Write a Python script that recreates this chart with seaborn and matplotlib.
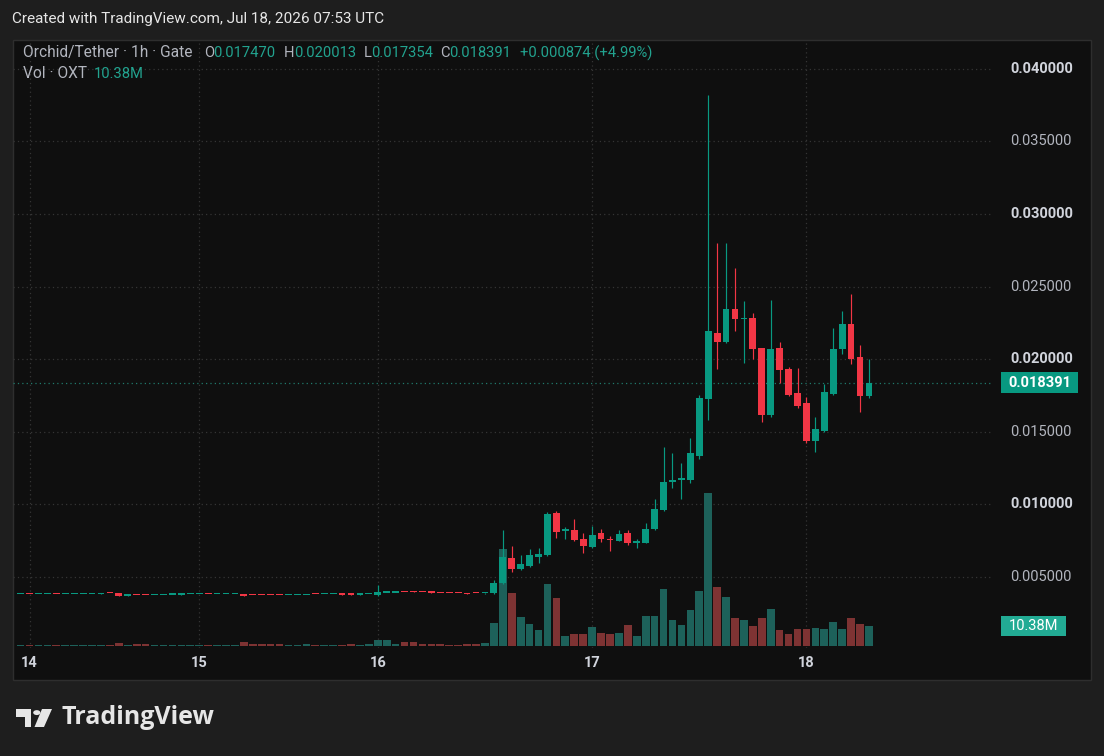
import matplotlib
matplotlib.use("Agg")
import matplotlib.pyplot as plt
import matplotlib.transforms as mtrans
from matplotlib.patches import Rectangle, Polygon, Circle
import seaborn as sns
import pandas as pd

# ---------------- data (hourly bars, OXT/USDT) ----------------
opens = [0.00380, 0.00382, 0.00380, 0.00381, 0.00382, 0.00380, 0.00381, 0.00381, 0.00381, 0.00381,
         0.00391, 0.00390, 0.00372, 0.00376, 0.00376, 0.00373, 0.00374, 0.00377, 0.00379, 0.00380,
         0.00380, 0.00382, 0.00380, 0.00380, 0.00381, 0.00385, 0.00376, 0.00376, 0.00376, 0.00376,
         0.00373, 0.00374, 0.00375, 0.00382, 0.00380, 0.00380, 0.00381, 0.00381, 0.00379, 0.00380,
         0.00374, 0.00391, 0.00392, 0.00396, 0.00396, 0.00396, 0.00394, 0.00390, 0.00390, 0.00390,
         0.00386, 0.00390,
         0.00389, 0.00388, 0.00461, 0.00629, 0.00553, 0.00576, 0.00636, 0.00651, 0.00943, 0.00820,
         0.00824, 0.00762, 0.00709, 0.00805, 0.00762, 0.00748, 0.00801, 0.00735, 0.00736, 0.00829,
         0.00960, 0.01155, 0.01168, 0.01168, 0.01333, 0.01726, 0.02183, 0.02118, 0.02348, 0.02276,
         0.02286, 0.02079, 0.01616, 0.02079, 0.01935, 0.01765, 0.01696, 0.01437, 0.01506, 0.01760,
         0.02072, 0.02242, 0.02017, 0.017470]
closes = [0.00382, 0.00380, 0.00381, 0.00382, 0.00380, 0.00381, 0.00381, 0.00382, 0.00382, 0.00383,
          0.00389, 0.00370, 0.00374, 0.00374, 0.00374, 0.00374, 0.00375, 0.00379, 0.00381, 0.00381,
          0.00381, 0.00380, 0.00381, 0.00381, 0.00382, 0.00370, 0.00374, 0.00374, 0.00374, 0.00374,
          0.00374, 0.00375, 0.00377, 0.00380, 0.00381, 0.00381, 0.00379, 0.00379, 0.00381, 0.00381,
          0.00397, 0.00393, 0.00393, 0.00394, 0.00394, 0.00394, 0.00392, 0.00388, 0.00388, 0.00388,
          0.00382, 0.00388,
          0.00390, 0.00461, 0.00640, 0.00553, 0.00590, 0.00651, 0.00658, 0.00932, 0.00810, 0.00830,
          0.00755, 0.00713, 0.00789, 0.00762, 0.00752, 0.00796, 0.00732, 0.00742, 0.00829, 0.00966,
          0.01156, 0.01162, 0.01184, 0.01356, 0.01731, 0.02196, 0.02121, 0.02348, 0.02279, 0.02282,
          0.02072, 0.01616, 0.02072, 0.01926, 0.01753, 0.01678, 0.01437, 0.01521, 0.01774, 0.02072,
          0.02242, 0.01999, 0.01747, 0.018391]
highs = [0.00382, 0.00382, 0.00381, 0.00382, 0.00382, 0.00381, 0.00381, 0.00382, 0.00382, 0.00392,
         0.00391, 0.00390, 0.00380, 0.00376, 0.00376, 0.00374, 0.00375, 0.00379, 0.00381, 0.00381,
         0.00381, 0.00382, 0.00381, 0.00381, 0.00382, 0.00385, 0.00376, 0.00376, 0.00376, 0.00376,
         0.00374, 0.00375, 0.00377, 0.00382, 0.00381, 0.00381, 0.00381, 0.00381, 0.00381, 0.00381,
         0.00445, 0.00393, 0.00393, 0.00396, 0.00406, 0.00396, 0.00394, 0.00390, 0.00390, 0.00390,
         0.00392, 0.00390,
         0.00392, 0.00479, 0.00824, 0.00711, 0.00651, 0.00691, 0.00698, 0.00950, 0.00955, 0.00846,
         0.00900, 0.00801, 0.00851, 0.00828, 0.00782, 0.00824, 0.00824, 0.00760, 0.00874, 0.01040,
         0.01397, 0.01352, 0.01287, 0.01455, 0.01753, 0.03820, 0.02802, 0.02798, 0.02630, 0.02403,
         0.02320, 0.02079, 0.02408, 0.02120, 0.01944, 0.01937, 0.01742, 0.01604, 0.01829, 0.02213,
         0.02334, 0.02449, 0.02098, 0.020013]
lows = [0.00380, 0.00380, 0.00380, 0.00381, 0.00380, 0.00380, 0.00381, 0.00381, 0.00381, 0.00381,
        0.00389, 0.00370, 0.00372, 0.00374, 0.00374, 0.00373, 0.00374, 0.00377, 0.00379, 0.00380,
        0.00380, 0.00380, 0.00380, 0.00380, 0.00381, 0.00370, 0.00374, 0.00374, 0.00374, 0.00374,
        0.00373, 0.00374, 0.00375, 0.00380, 0.00380, 0.00380, 0.00379, 0.00379, 0.00379, 0.00380,
        0.00372, 0.00391, 0.00392, 0.00394, 0.00394, 0.00394, 0.00392, 0.00388, 0.00388, 0.00388,
        0.00380, 0.00388,
        0.00386, 0.00386, 0.00455, 0.00535, 0.00548, 0.00569, 0.00598, 0.00645, 0.00771, 0.00762,
        0.00750, 0.00667, 0.00698, 0.00740, 0.00681, 0.00745, 0.00721, 0.00702, 0.00733, 0.00825,
        0.00955, 0.01111, 0.01040, 0.01145, 0.01311, 0.01581, 0.01930, 0.02110, 0.02196, 0.01972,
        0.01999, 0.01570, 0.01604, 0.01834, 0.01750, 0.01662, 0.01421, 0.01363, 0.01500, 0.01755,
        0.02036, 0.01967, 0.01638, 0.017354]
volumes_m = [0.4, 0.4, 0.3, 0.3, 0.4, 0.3, 0.3, 0.4, 0.3, 0.5,
             0.6, 1.3, 0.4, 1.0, 1.0, 0.3, 0.3, 0.3, 0.3, 0.3,
             0.3, 0.5, 0.3, 0.3, 0.4, 2.0, 1.2, 1.2, 1.2, 1.2,
             0.4, 0.4, 1.0, 0.5, 0.3, 0.4, 0.6, 1.2, 0.4, 1.0,
             3.0, 3.0, 1.2, 2.0, 2.0, 1.0, 1.0, 1.0, 0.5, 0.5,
             1.2, 1.2,
             1.7, 12.1, 50.2, 27.7, 15.2, 11.4, 8.3, 32.2, 24.9, 5.2,
             6.2, 6.2, 10.0, 6.9, 6.2, 6.9, 10.9, 5.2, 15.6, 15.6,
             29.6, 13.5, 10.9, 18.7, 28.5, 79.4, 30.6, 25.4, 14.5, 13.5,
             10.4, 14.5, 19.2, 8.3, 6.2, 8.8, 8.8, 9.3, 8.8, 12.5,
             8.8, 14.5, 11.4, 10.38]
day_labels = ["14", "15", "16", "17", "18"]
day_bars = [1, 20, 40, 64, 88]          # bar index of 00:00 UTC
price_ticks = [0.005, 0.010, 0.015, 0.020, 0.025, 0.030, 0.035, 0.040]
price_tick_labels = ["0.005000", "0.010000", "0.015000", "0.020000",
                     "0.025000", "0.030000", "0.035000", "0.040000"]
bold_ticks = ["0.010000", "0.020000", "0.030000", "0.040000"]
last_price = 0.018391
last_volume_m = 10.38

# ---------------- style ----------------
UP, DN = "#089981", "#f23645"
VUP, VDN = "#1d615a", "#7e3333"
BG_OUT, BG_PANEL = "#1e1e1e", "#0f0f0f"
GRID = "#353535"
TXT, TXT2, TEAL = "#d1d4dc", "#b2b5be", "#22a38f"

sns.set_theme(style="dark")
plt.rcParams['font.family'] = ['Roboto', 'DejaVu Sans']

W, H = 1104, 756
fig = plt.figure(figsize=(W / 100, H / 100), dpi=100, facecolor=BG_OUT)


def fx(px):
    return px / W


def fy(py):
    return 1 - py / H


fig.patches.append(Rectangle((fx(13), fy(680)), fx(1091) - fx(13), fy(40) - fy(680),
                             transform=fig.transFigure, facecolor=BG_PANEL,
                             edgecolor="#2e2e2e", lw=1.0, zorder=-5))

rect = [fx(13), fy(648), (993 - 13) / W, (648 - 41) / H]
XMIN, XMAX = (13 - 20.6) / 8.93, (993 - 20.6) / 8.93
PMIN, PMAX = (649.6 - 648) / 14520, (649.6 - 41) / 14520
VMIN, VMAX = -(648 - 646) * 0.519, (646 - 41) * 0.519

n = len(opens)
bars = list(range(n))
up = [c >= o for o, c in zip(opens, closes)]
cols = [UP if u else DN for u in up]

# grid axes (bottom)
axg = fig.add_axes(rect)
axg.set_facecolor("none")
for p in price_ticks:
    axg.axhline(p, color=GRID, lw=0.9, ls=(0, (1, 2.5)), zorder=0)
for b in day_bars:
    axg.axvline(b, color=GRID, lw=0.9, ls=(0, (1, 2.5)), zorder=0)
axg.axhline(last_price, color="#1f7a6c", lw=0.9, ls=(0, (1, 2.5)), zorder=0)
axg.set_xlim(XMIN, XMAX)
axg.set_ylim(PMIN, PMAX)
axg.axis("off")

# volume axes
axv = fig.add_axes(rect)
axv.set_facecolor("none")
df = pd.DataFrame({"bar": bars, "volume": volumes_m,
                   "dir": ["up" if u else "down" for u in up]})
sns.barplot(data=df, x="bar", y="volume", hue="dir", palette={"up": VUP, "down": VDN},
            native_scale=True, width=0.86, dodge=False, saturation=1, errorbar=None,
            legend=False, linewidth=0, ax=axv)
axv.set_xlim(XMIN, XMAX)
axv.set_ylim(VMIN, VMAX)
axv.axis("off")

# candle axes (top)
ax = fig.add_axes(rect)
ax.set_facecolor("none")
ax.vlines(bars, lows, highs, colors=cols, linewidth=0.85, zorder=2)
minh = 1.6 / 14520
bottoms = [min(o, c) for o, c in zip(opens, closes)]
heights = [max(abs(c - o), minh) for o, c in zip(opens, closes)]
ax.bar(bars, heights, bottom=bottoms, width=0.76, color=cols, linewidth=0, zorder=3)
ax.set_xlim(XMIN, XMAX)
ax.set_ylim(PMIN, PMAX)
ax.axis("off")

# time axis labels
for lab, b in zip(day_labels, day_bars):
    ax.text(b, -(663 - 648) / 607, lab, transform=ax.get_xaxis_transform(),
            ha="center", va="center", color=TXT, fontsize=10.5, fontweight="bold")

# price axis labels
bt = mtrans.blended_transform_factory(fig.transFigure, ax.transData)
for p, lab in zip(price_ticks, price_tick_labels):
    bold = lab in bold_ticks
    ax.text(fx(1010), p, lab, transform=bt, ha="left", va="center",
            color=TXT if bold else TXT2, fontsize=10.5,
            fontweight="bold" if bold else "normal", clip_on=False)

ax.add_patch(Rectangle((fx(1001), last_price - 10.5 / 14520), fx(1078) - fx(1001), 21 / 14520,
                       transform=bt, facecolor=UP, edgecolor="none", clip_on=False, zorder=5))
ax.text(fx(1039.5), last_price, f"{last_price:.6f}", transform=bt, ha="center", va="center",
        color="white", fontsize=10.5, fontweight="bold", clip_on=False, zorder=6)

btv = mtrans.blended_transform_factory(fig.transFigure, axv.transData)
axv.add_patch(Rectangle((fx(1001), last_volume_m - 10 * 0.519), fx(1066) - fx(1001), 20 * 0.519,
                        transform=btv, facecolor="#22ab94", edgecolor="none", clip_on=False,
                        zorder=5))
axv.text(fx(1033.5), last_volume_m, f"{last_volume_m:.2f}M", transform=btv, ha="center",
         va="center", color="white", fontsize=10.5, clip_on=False, zorder=6)

# header texts
fig.text(fx(12), fy(19), "Created with TradingView.com, Jul 18, 2026 07:53 UTC",
         color="#e6e6e6", fontsize=10.95, ha="left", va="center")
fig.text(fx(23), fy(53), "Orchid/Tether · 1h · Gate", color=TXT2, fontsize=11.2,
         ha="left", va="center")
hdr = [(204, "O", TXT2), (213, "0.017470", TEAL),
       (284, "H", TXT2), (294, "0.020013", TEAL), (364, "L", TXT2), (371, "0.017354", TEAL),
       (440, "C", TXT2), (449, "0.018391", TEAL), (520, "+0.000874 (+4.99%)", TEAL)]
for x, s, c in hdr:
    fig.text(fx(x), fy(53), s, color=c, fontsize=10.6, ha="left", va="center")
fig.text(fx(23), fy(74), "Vol · OXT", color=TXT2, fontsize=11.2, ha="left", va="center")
fig.text(fx(94), fy(74), f"{last_volume_m:.2f}M", color=TEAL, fontsize=10.6, ha="left",
         va="center")

# TradingView logo
LOGO = "#e6e6e6"


def pts(lst):
    return [(fx(a), fy(b)) for a, b in lst]


fig.patches.append(Polygon(pts([(15.5, 709), (31.5, 709), (31.5, 727), (24.5, 727),
                                (24.5, 716.5), (15.5, 716.5)]),
                           closed=True, transform=fig.transFigure, facecolor=LOGO,
                           edgecolor="none"))
fig.patches.append(Circle((fx(36.8), fy(712.6)), 3.6 / W, transform=fig.transFigure,
                          facecolor=LOGO, edgecolor="none"))
fig.patches.append(Polygon(pts([(42, 709), (52, 709), (44, 727), (34.5, 727)]),
                           closed=True, transform=fig.transFigure, facecolor=LOGO,
                           edgecolor="none"))
fig.text(fx(61), fy(718), "TradingView", color=LOGO, fontsize=18,
         fontweight="bold", family=["Open Sans", "DejaVu Sans"], ha="left", va="center")

fig.savefig("out.png", dpi=100, facecolor=BG_OUT)
